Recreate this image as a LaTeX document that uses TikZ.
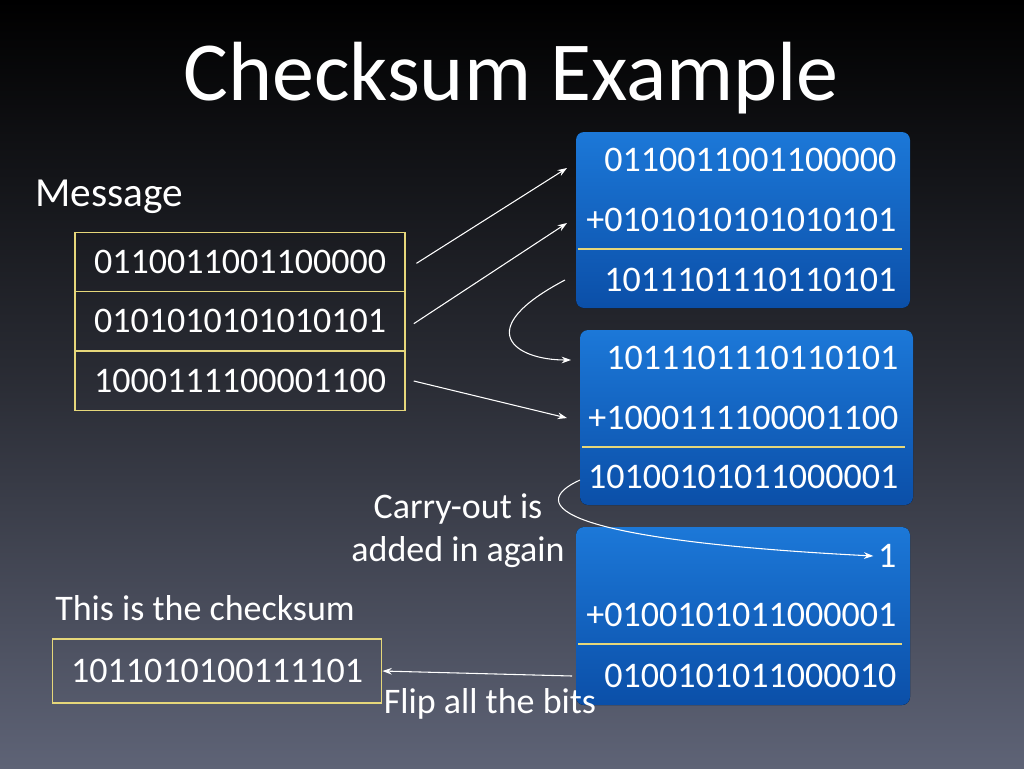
\documentclass[tikz,border=0pt]{standalone}
\usepackage{fontspec}
\setmainfont{Carlito}
\usetikzlibrary{positioning,arrows.meta}
\definecolor{bgtop}{HTML}{000000}
\definecolor{bgbot}{HTML}{5E6376}
\definecolor{msgline}{HTML}{E6D77A}
\definecolor{bluetop}{HTML}{1C78D8}
\definecolor{bluebot}{HTML}{0B4FA8}
\tikzset{
  msgbox/.style={draw=msgline,line width=1.2pt,minimum width=247.5pt,minimum height=44pt,
    text=white,font=\fontsize{27}{30}\selectfont},
  sumbox/.style={rounded corners=6pt,top color=bluetop,bottom color=bluebot,draw=none},
  sumtxt/.style={text=white,font=\fontsize{27}{30}\selectfont,anchor=east},
  lbl/.style={text=white,font=\fontsize{27}{30}\selectfont},
  wire/.style={white,line width=0.8pt,-{Stealth[length=7pt,width=5pt]}},
  sep/.style={msgline,line width=1pt}
}
\begin{document}
\begin{tikzpicture}[x=0.75pt,y=-0.75pt]
  \shade[top color=bgtop,bottom color=bgbot,middle color=bgtop!55!bgbot] (0,0) rectangle (1024,768);
  \useasboundingbox (0,0) rectangle (1024,768);

  % title
  \node[lbl,font=\fontsize{63}{70}\selectfont] (title) at (511,78) {Checksum Example};

  % message
  \node[lbl,font=\fontsize{31}{34}\selectfont] (msglbl) at (109,197) {Message};
  \node[msgbox] (m1) at (240,262) {0110011001100000};
  \node[msgbox] (m2) at (240,321) {0101010101010101};
  \node[msgbox] (m3) at (240,381) {1000111100001100};

  % first sum
  \fill[sumbox] (576,132) rectangle (910,308);
  \node[sumtxt] (a1) at (901,160) {0110011001100000};
  \node[sumtxt] (a2) at (901,220) {+0101010101010101};
  \node[sumtxt] (a3) at (901,280) {1011101110110101};
  \draw[sep] (578,249) -- (902,249);

  % second sum
  \fill[sumbox] (580,330) rectangle (913,505);
  \node[sumtxt] (b1) at (903,358) {1011101110110101};
  \node[sumtxt] (b2) at (903,418) {+1000111100001100};
  \node[sumtxt] (b3) at (903,477) {10100101011000001};
  \draw[sep] (582,447) -- (905,447);

  % third sum
  \fill[sumbox] (576,527) rectangle (910,705);
  \node[sumtxt] (c1) at (901,556) {1};
  \node[sumtxt] (c2) at (901,615) {+0100101011000001};
  \node[sumtxt] (c3) at (901,676) {0100101011000010};
  \draw[sep] (578,644) -- (902,644);

  % checksum
  \node[lbl] (sumlbl) at (205,608) {This is the checksum};
  \node[msgbox,minimum width=247pt,minimum height=48pt] (cs) at (217,671) {1011010100111101};

  \node[lbl,align=center] (carry) at (458,531) {Carry-out is\\[2pt]added in again};
  \node[lbl] (flip) at (490,704) {Flip all the bits};

  % arrow ends at the boxes
  \coordinate (ea1) at (567,168);
  \coordinate (ea2) at (567,223);
  \coordinate (sa3) at (565,280);
  \coordinate (eb1) at (571,360);
  \coordinate (eb2) at (567,418);
  \coordinate (sb3) at (580,480);
  \coordinate (sc3) at (572,676);

  % connectors
  \draw[wire] (m1.east) ++(8pt,-1pt) -- (ea1);
  \draw[wire] (m2.east) ++(6pt,-2pt) -- (ea2);
  \draw[wire] (m3.east) ++(6pt,0) -- (eb2);
  \draw[wire] (sa3) .. controls (470,330) and (515,360) .. (eb1);
  \draw[wire] (sb3) .. controls (525,505) and (560,540) .. (c1.west);
  \draw[wire] (sc3) -- (cs.east);
\end{tikzpicture}
\end{document}
